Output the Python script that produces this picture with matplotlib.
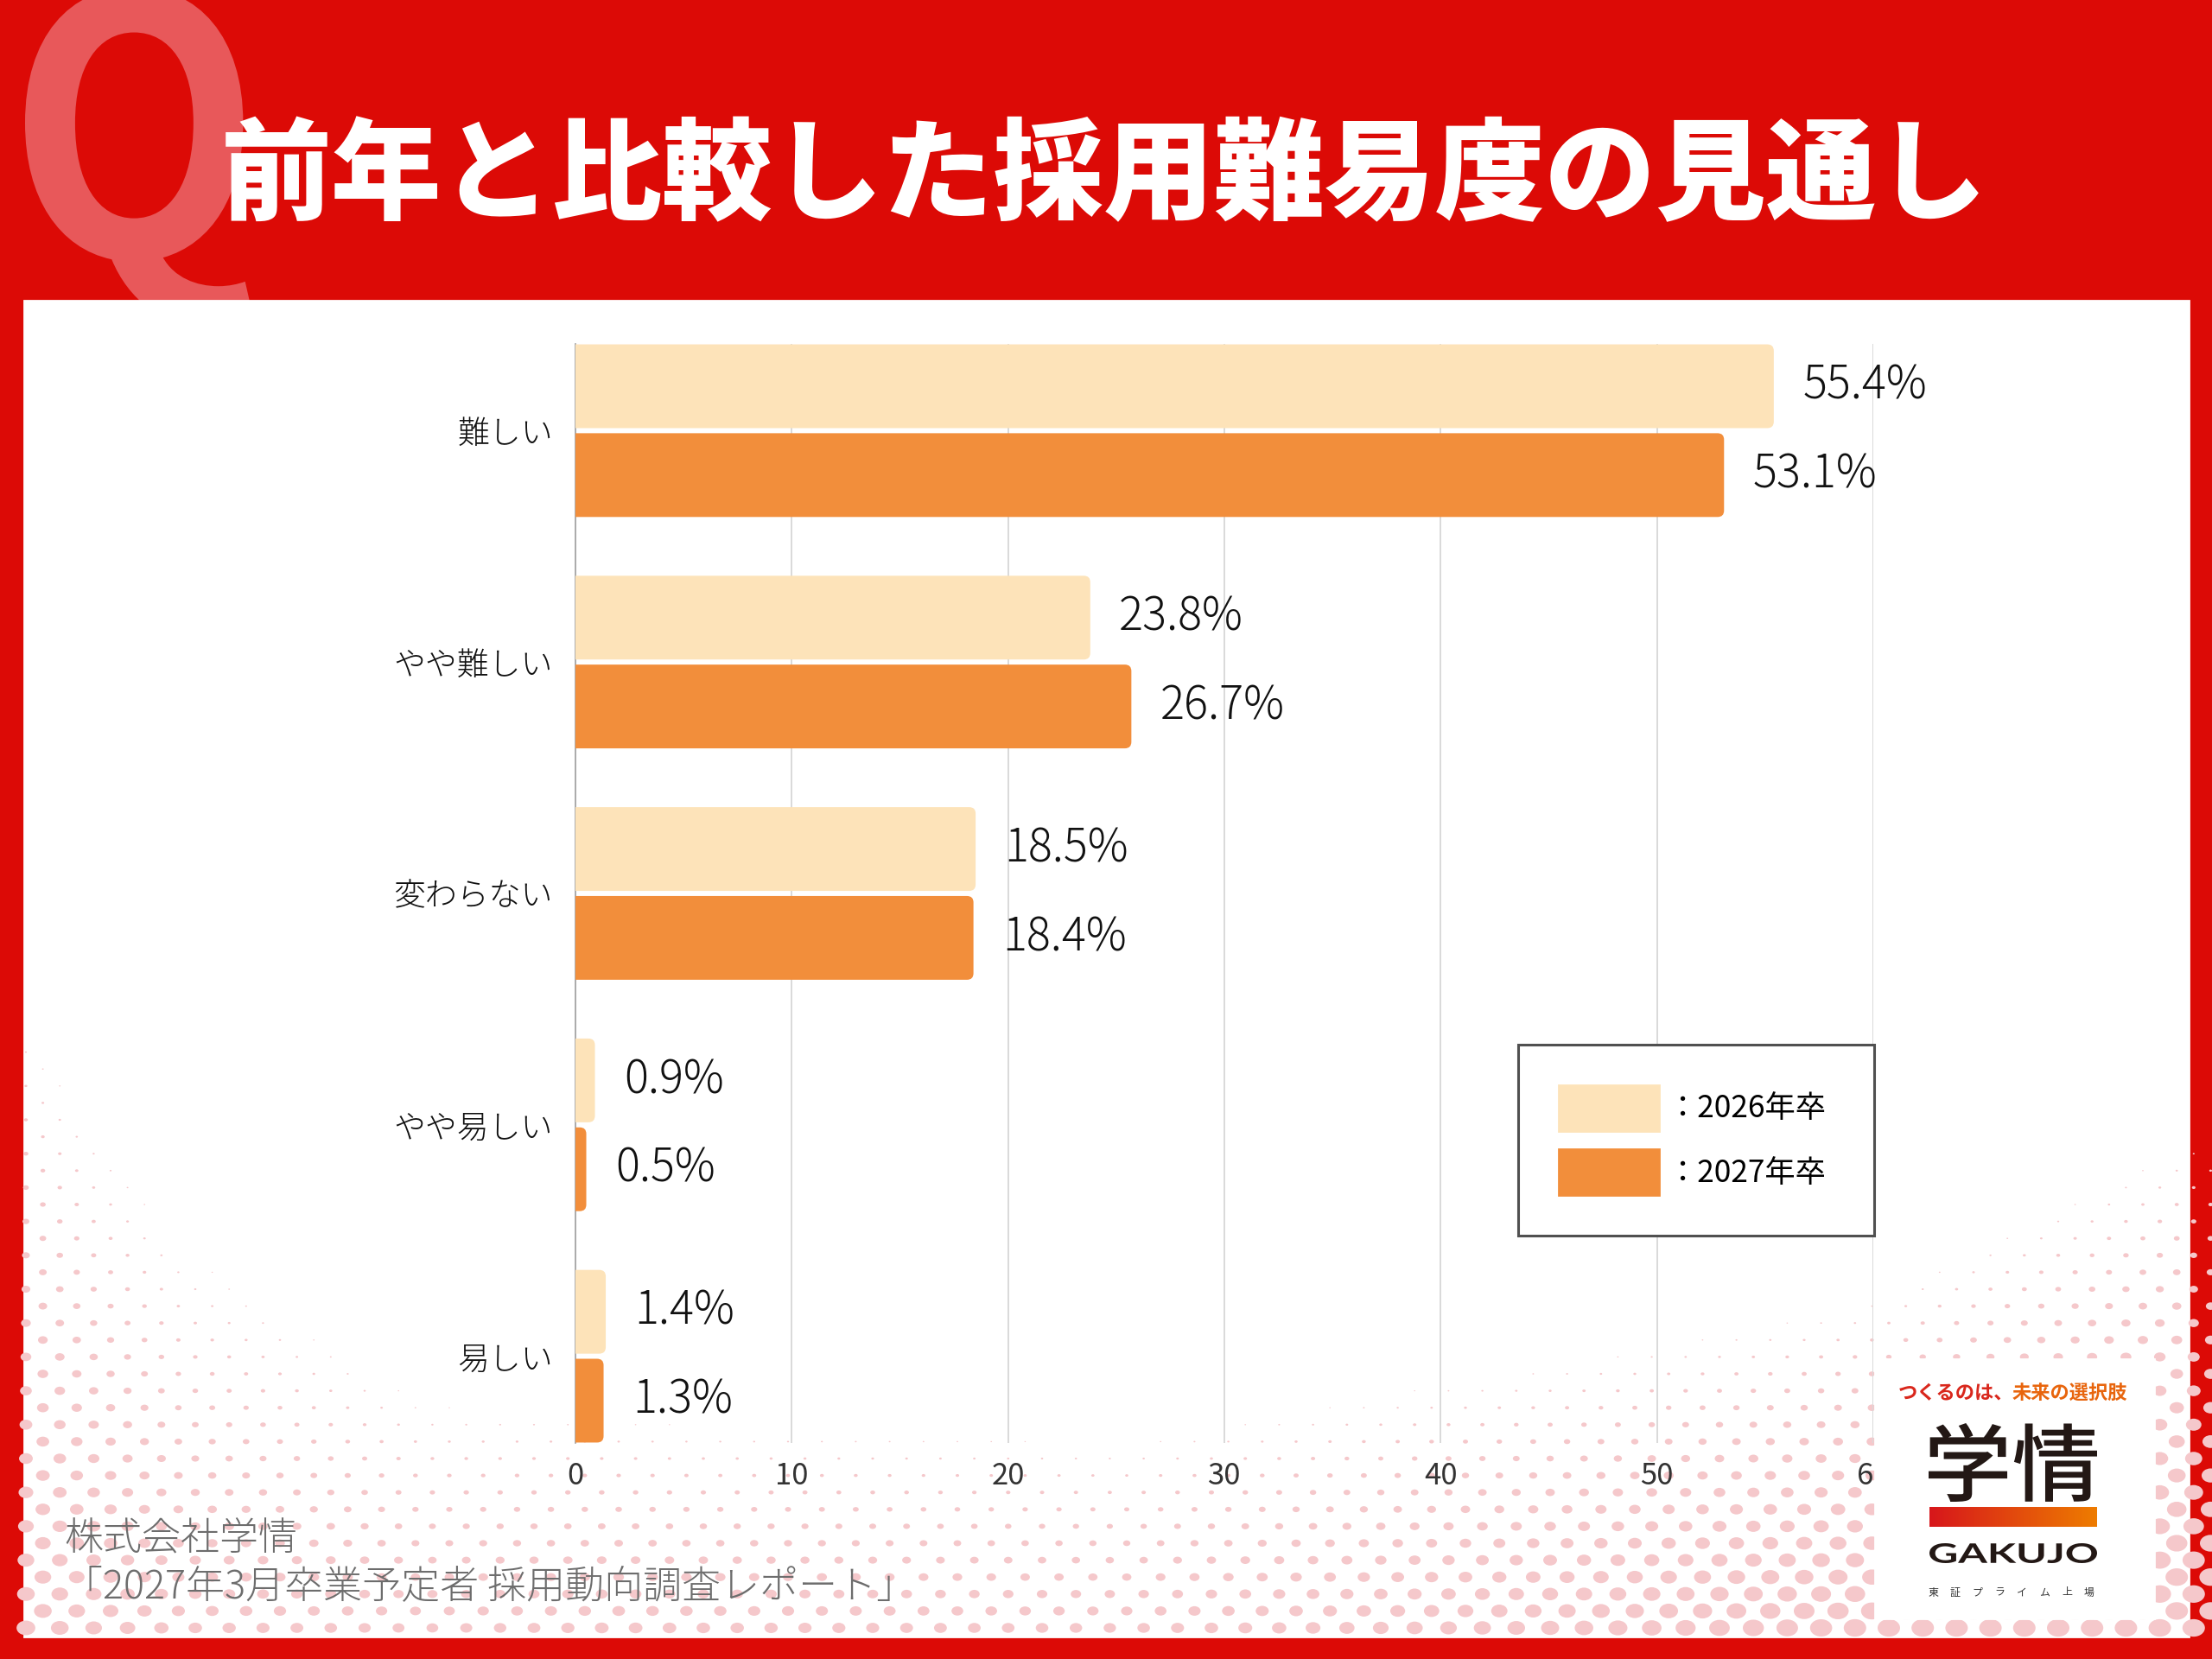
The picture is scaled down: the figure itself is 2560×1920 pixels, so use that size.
import numpy as np
import matplotlib
matplotlib.use('Agg')
import matplotlib.pyplot as plt
from matplotlib.patches import Rectangle, FancyBboxPatch, PathPatch, Patch
from matplotlib.path import Path
from matplotlib.textpath import TextPath
from matplotlib.font_manager import FontProperties
from matplotlib.transforms import Affine2D
from matplotlib.colors import LinearSegmentedColormap

plt.rcParams['font.family'] = ['Noto Sans CJK JP', 'DejaVu Sans']

# data (bar lengths as drawn in the source; the 26.7% bar is drawn shorter there)
categories = ['難しい', 'やや難しい', '変わらない', 'やや易しい', '易しい']
grad_2026 = [55.4, 23.8, 18.5, 0.9, 1.4]
grad_2027 = [53.1, 25.7, 18.4, 0.5, 1.3]
labels_2026 = ['55.4%', '23.8%', '18.5%', '0.9%', '1.4%']
labels_2027 = ['53.1%', '26.7%', '18.4%', '0.5%', '1.3%']
series_labels = ['：2026年卒', '：2027年卒']
xticks = [0, 10, 20, 30, 40, 50, 60]

title = '前年と比較した採用難易度の見通し'
source_lines = ['株式会社学情', '「2027年3月卒業予定者 採用動向調査レポート」']

RED = '#dc0a06'
LIGHT = '#fde3b9'
ORANGE = '#f28e3b'

W, H = 2560, 1920
DPI = 200


def fit_text(ax, s, box, prop, color, zorder):
    # squeeze a glyph path into a pixel box (x0, x1, top, bottom)
    tp = TextPath((0, 0), s, size=100, prop=prop)
    bb = tp.get_extents()
    x0, x1, top, bottom = box
    sx = (x1 - x0) / bb.width
    sy = (bottom - top) / bb.height
    tr = Affine2D().translate(-bb.x0, -bb.y1).scale(sx, -sy).translate(x0, top)
    ax.add_patch(PathPatch(tr.transform_path(tp), fc=color, ec='none', zorder=zorder))


fig = plt.figure(figsize=(W / DPI, H / DPI), dpi=DPI)

# background layer in pixel coords
bg = fig.add_axes([0, 0, 1, 1], zorder=0)
bg.set_xlim(0, W)
bg.set_ylim(H, 0)
bg.axis('off')
bg.add_patch(Rectangle((0, 0), W, H, color=RED, zorder=0))
fit_text(bg, 'Q', (29, 294, -15, 380), FontProperties(family='Noto Sans CJK JP', weight='bold'), '#e8585a', 1)
panel = Rectangle((28, 348), 2505, 1546, color='white', zorder=2)
bg.add_patch(panel)

# halftone dots: staggered grid, dots swell toward the lower corners
rows = 1884 - 19.6 * np.arange(0, 45)
gx, gy = np.meshgrid(30 + 39.2 * np.arange(0, 66), rows)
gx[1::2] += 19.6
x_anchor = [28, 210, 490, 700, 1300, 2150, 2540]
start_y = [1140, 1400, 1593, 1620, 1648, 1490, 1290]
ramp = [890, 800, 560, 430, 430, 390, 520]
f = np.clip((gy - np.interp(gx, x_anchor, start_y)) / np.interp(gx, x_anchor, ramp), 0, 1)
d = 26 * f
m = d > 1.5
oval = Affine2D().scale(1, 0.78).transform_path(Path.unit_circle())
bg.scatter(gx[m], gy[m], s=(d[m] * 72 / DPI) ** 2, marker=oval, color='#f5c8cb', lw=0, zorder=3,
           clip_path=panel)

bg.text(256, 206, title, color='white', fontsize=46, fontweight='heavy', ha='left', va='center', zorder=5)
bg.text(74, 1782, source_lines[0], color='#6d6d6d', fontsize=16.2, fontweight='light', ha='left', va='center', zorder=4)
bg.text(74, 1836, source_lines[1], color='#6d6d6d', fontsize=16.2, fontweight='light', ha='left', va='center', zorder=4)

# chart
ax = fig.add_axes([666 / W, 1 - 1670 / H, (2168 - 666) / W, (1670 - 398) / H], zorder=2)
ax.set_facecolor('none')
y = np.arange(len(categories))
off, bh = 0.192, 0.362
bars_a = ax.barh(y - off, grad_2026, height=bh, color=LIGHT, zorder=3)
bars_b = ax.barh(y + off, grad_2027, height=bh, color=ORANGE, zorder=3)

# swap the plain bars for ones with rounded ends
r, asp = 0.3, 0.0934
for bars in (bars_a, bars_b):
    for rect in bars:
        fb = FancyBboxPatch((rect.get_x() - r, rect.get_y()), rect.get_width() + r, rect.get_height(),
                            boxstyle=f'round,pad=0,rounding_size={r}', mutation_aspect=asp,
                            fc=rect.get_facecolor(), ec='none', zorder=3)
        ax.add_patch(fb)
        rect.remove()

for vals, labs, yy in ((grad_2026, labels_2026, y - off), (grad_2027, labels_2027, y + off)):
    for v, lab, yv in zip(vals, labs, yy):
        ax.annotate(lab, xy=(v, yv), xytext=(12, 0), textcoords='offset points',
                    va='center', ha='left', fontsize=18.8, fontweight='light', color='#111111', zorder=4)

ax.set_xlim(0, 60)
ax.set_ylim(len(categories) - 1 + 0.375, -0.375)
ax.set_xticks(xticks)
ax.set_yticks(y)
ax.set_yticklabels(categories, fontweight='light')
ax.grid(axis='x', color='#d9d9d9', lw=0.7, zorder=0)
ax.set_axisbelow(True)
for s in ('top', 'right', 'bottom'):
    ax.spines[s].set_visible(False)
ax.spines['left'].set_color('#a0a0a0')
ax.spines['left'].set_linewidth(0.6)
ax.tick_params(axis='x', length=0, labelsize=12.5, labelcolor='#333333', pad=7.5)
ax.tick_params(axis='y', length=0, labelsize=13.3, labelcolor='#111111', pad=9.4)

handles = [Patch(color=LIGHT), Patch(color=ORANGE)]
leg = ax.legend(handles, series_labels, loc='upper left', mode='expand',
                bbox_to_anchor=(1757 / W, 1 - 1432 / H, 412 / W, 223 / H),
                bbox_transform=fig.transFigure, fontsize=12.7, frameon=True, fancybox=False,
                edgecolor='#505050', framealpha=1, handlelength=3.3, handleheight=1.95,
                handletextpad=0.25, labelspacing=0.6, borderpad=1.32, borderaxespad=0)
leg.get_frame().set_linewidth(1.1)

# logo block, above the chart so it hides part of the "60" tick
lg = fig.add_axes([0, 0, 1, 1], zorder=3)
lg.set_facecolor('none')
lg.add_patch(Rectangle((2170, 1573), 323, 300, color='white', zorder=1))
lg.text(2197, 1613, 'つくるのは、', color='#d9271c', fontsize=8, fontweight='bold', ha='left', va='center', zorder=2)
lg.text(2329, 1613, '未来の選択肢', color='#e8650d', fontsize=8, fontweight='bold', ha='left', va='center', zorder=2)
fit_text(lg, '学情', (2232, 2427, 1647, 1738), FontProperties(family='Noto Sans CJK JP', weight='medium'), '#231815', 2)
grad = np.linspace(0, 1, 256).reshape(1, -1)
lg.imshow(grad, extent=(2233, 2427, 1767, 1744), cmap=LinearSegmentedColormap.from_list('g', ['#d7161b', '#ee7c00']),
          aspect='auto', zorder=2)
fit_text(lg, 'GAKUJO', (2233, 2427, 1786, 1809), FontProperties(family='Lato', weight='bold'), '#231815', 2)
for ch, xc in zip('東証プライム上場', np.linspace(2237, 2418, 8)):
    lg.text(xc, 1843, ch, fontsize=4.3, color='#333333', ha='center', va='center', zorder=2)
lg.set_xlim(0, W)
lg.set_ylim(H, 0)
lg.axis('off')

fig.savefig('out.png', dpi=DPI)
